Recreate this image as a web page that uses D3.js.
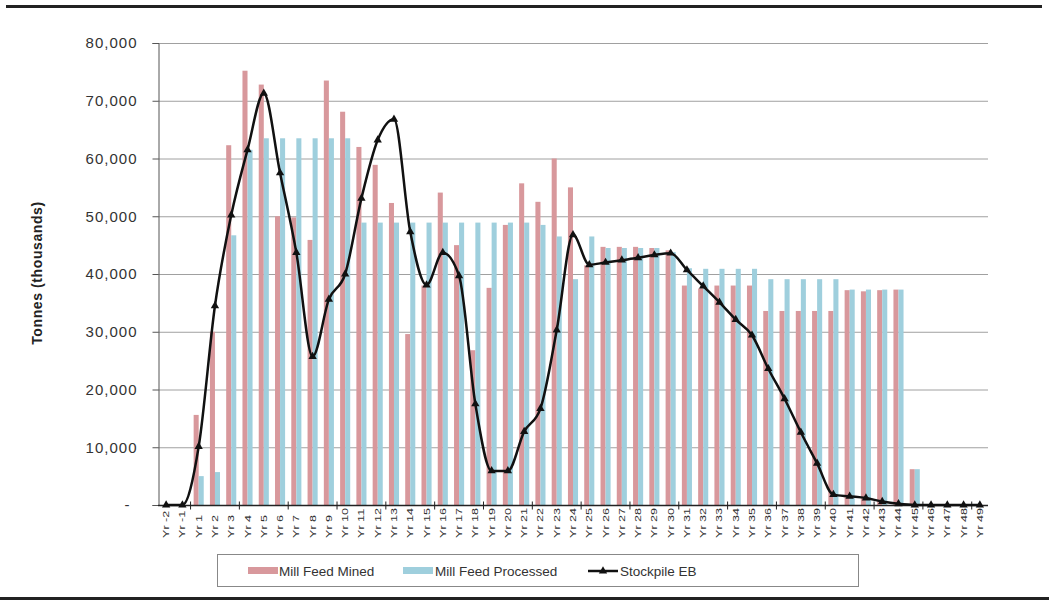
<!DOCTYPE html>
<html>
<head>
<meta charset="utf-8">
<script src="https://cdn.jsdelivr.net/npm/d3@7/dist/d3.min.js"></script>
<style>
html,body{margin:0;padding:0;background:#fff;}
svg{display:block;}
text{font-family:"Liberation Sans",Arial,sans-serif;}
</style>
</head>
<body>
<svg id="chart" width="1049" height="601"></svg>
<script>
const categories = ["Yr -2","Yr -1","Yr 1","Yr 2","Yr 3","Yr 4","Yr 5","Yr 6","Yr 7","Yr 8","Yr 9","Yr 10",
  "Yr 11","Yr 12","Yr 13","Yr 14","Yr 15","Yr 16","Yr 17","Yr 18","Yr 19","Yr 20",
  "Yr 21","Yr 22","Yr 23","Yr 24","Yr 25","Yr 26","Yr 27","Yr 28","Yr 29","Yr 30",
  "Yr 31","Yr 32","Yr 33","Yr 34","Yr 35","Yr 36","Yr 37","Yr 38","Yr 39","Yr 40",
  "Yr 41","Yr 42","Yr 43","Yr 44","Yr 45","Yr 46","Yr 47","Yr 48","Yr 49"];

const millFeedMined = [0,0,15600,30000,62300,75200,72800,50000,49800,45900,73500,68100,
  62000,58900,52300,29600,38000,54100,45000,26800,37600,48500,
  55700,52500,60000,55000,41500,44700,44700,44700,44500,44100,
  38000,37500,38000,38000,38000,33600,33600,33600,33600,33600,
  37200,37000,37200,37300,6200,0,0,0,0];

const millFeedProcessed = [0,0,5000,5700,46700,61500,63500,63500,63500,63500,63500,63500,
  48900,48900,48900,48900,48900,48900,48900,48900,48900,48900,
  48900,48500,46500,39100,46500,44500,44500,44500,44500,43800,
  41000,40900,40900,40900,40900,39100,39100,39100,39100,39100,
  37300,37300,37300,37300,6200,0,0,0,0];

const stockpileEB = [0,0,10100,34500,50200,61500,71300,57500,43700,25700,35600,40000,
  53100,63200,66800,47300,38100,43700,39700,17500,5900,5900,
  12700,16700,30300,46800,41600,42000,42400,42800,43300,43600,
  40700,37900,35100,32100,29400,23600,18400,12600,7200,1800,
  1500,1200,600,200,0,0,0,0,0];

const yTicks = [0,10000,20000,30000,40000,50000,60000,70000,80000];
const seriesNames = ["Mill Feed Mined","Mill Feed Processed","Stockpile EB"];
const yTitle = "Tonnes (thousands)";

(function(){
const colors = {mined:"#d8989c", processed:"#9fcfdd", line:"#111"};

const svg = d3.select("#chart");
const pLeft = 158, pRight = 988, pTop = 43, pBottom = 505;

const x = d3.scaleBand().domain(categories).range([pLeft, pRight]).paddingInner(0.38).paddingOuter(0.19);
const xs = d3.scaleBand().domain(["mined","processed"]).range([0, x.bandwidth()]);
const y = d3.scaleLinear().domain([0, 80000]).range([pBottom, pTop]);
const cx = c => x(c) + x.bandwidth()/2;

// frame lines
svg.append("rect").attr("x",6).attr("y",5).attr("width",1036).attr("height",3).attr("fill","#222");
svg.append("rect").attr("x",0).attr("y",597).attr("width",1049).attr("height",3).attr("fill","#222");

// gridlines
svg.append("g").selectAll("line").data(yTicks.filter(d=>d>0)).join("line")
  .attr("x1",pLeft).attr("x2",pRight).attr("y1",d=>y(d)+0.5).attr("y2",d=>y(d)+0.5)
  .attr("stroke","#a0a0a0").attr("stroke-width",1);

// bars
const g = svg.append("g");
g.selectAll("rect.mined").data(categories).join("rect").attr("class","mined")
  .attr("x",(c)=>x(c)+xs("mined")).attr("width",xs.bandwidth())
  .attr("y",(c,i)=>y(millFeedMined[i])).attr("height",(c,i)=>pBottom-y(millFeedMined[i]))
  .attr("fill",colors.mined);
g.selectAll("rect.proc").data(categories).join("rect").attr("class","proc")
  .attr("x",(c)=>x(c)+xs("processed")).attr("width",xs.bandwidth())
  .attr("y",(c,i)=>y(millFeedProcessed[i])).attr("height",(c,i)=>pBottom-y(millFeedProcessed[i]))
  .attr("fill",colors.processed);

// y axis
const yAxis = d3.axisLeft(y).tickValues(yTicks).tickSize(6)
  .tickFormat(d => d===0 ? "-" : d3.format(",")(d));
const ya = svg.append("g").attr("transform",`translate(${pLeft+0.5},0)`).call(yAxis);
ya.select(".domain").attr("stroke","#555");
ya.selectAll(".tick line").attr("stroke","#555");
ya.selectAll(".tick text").attr("x",-21).attr("font-size",15).attr("letter-spacing","1px")
  .attr("fill","#333").attr("font-family","'Liberation Sans',Arial,sans-serif");
ya.selectAll(".tick text").filter(d=>d===0).attr("x",-28);

// x axis
const xa = svg.append("g").attr("transform",`translate(0,${pBottom+0.5})`);
xa.append("line").attr("x1",pLeft).attr("x2",pRight).attr("stroke","#222").attr("stroke-width",1.5);
xa.selectAll("line.tk").data(categories.filter((c,i)=>i%3===1)).join("line").attr("class","tk")
  .attr("x1",c=>x(c)+x.step()-(x.step()-x.bandwidth())/2).attr("x2",c=>x(c)+x.step()-(x.step()-x.bandwidth())/2)
  .attr("y1",-4).attr("y2",4).attr("stroke","#222");
svg.append("g").selectAll("text").data(categories).join("text")
  .attr("transform",c=>`translate(${cx(c)+3},538) rotate(-90) scale(1.4,1)`)
  .attr("text-anchor","start").attr("font-size",9).attr("fill","#333").text(c=>c);

// stockpile line
const pts = categories.map((c,i)=>[cx(c), y(stockpileEB[i])]);
svg.append("path").attr("d", d3.line().curve(d3.curveMonotoneX)(pts))
  .attr("fill","none").attr("stroke",colors.line).attr("stroke-width",2.5);
const tri = d3.symbol().type(d3.symbolTriangle).size(30);
svg.append("g").selectAll("path").data(pts).join("path")
  .attr("transform",d=>`translate(${d[0]},${d[1]})`).attr("d",tri()).attr("fill",colors.line);

// y title
svg.append("text").attr("transform","translate(42,273) rotate(-90)").attr("text-anchor","middle")
  .attr("font-size",14).attr("font-weight","bold").attr("letter-spacing","0.6px").attr("fill","#222").text(yTitle);

// legend
const lg = svg.append("g");
lg.append("rect").attr("x",217.5).attr("y",554.5).attr("width",641).attr("height",32)
  .attr("fill","#fff").attr("stroke","#888");
const items = [
  {name:seriesNames[0], type:"bar", color:colors.mined, sx:248, tx:279},
  {name:seriesNames[1], type:"bar", color:colors.processed, sx:403, tx:435},
  {name:seriesNames[2], type:"line", color:colors.line, sx:588, tx:620}
];
items.forEach(it=>{
  if(it.type==="bar"){
    lg.append("rect").attr("x",it.sx).attr("y",567).attr("width",30).attr("height",7).attr("fill",it.color);
  } else {
    lg.append("line").attr("x1",it.sx).attr("x2",it.sx+30).attr("y1",571).attr("y2",571).attr("stroke",it.color).attr("stroke-width",2.5);
    lg.append("path").attr("transform",`translate(${it.sx+15},571)`).attr("d",tri()).attr("fill",it.color);
  }
  lg.append("text").attr("x",it.tx).attr("y",576).attr("font-size",13.5).attr("fill","#333").text(it.name);
});
})();
</script>
</body>
</html>
